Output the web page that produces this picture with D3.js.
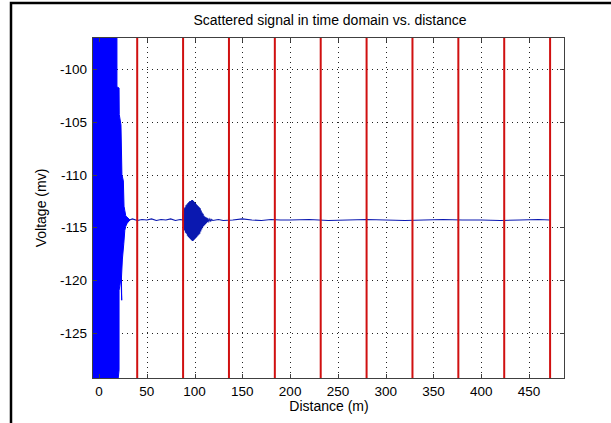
<!DOCTYPE html>
<html><head><meta charset="utf-8">
<script src="https://cdn.jsdelivr.net/npm/d3@7"></script>
<style>body{margin:0;background:#fff}svg{display:block}text{font-family:"Liberation Sans",Arial,sans-serif;fill:#000}</style>
</head><body><svg id="c" width="611" height="423"></svg>
<script>
// ---- data ----
const xTicks = [0, 50, 100, 150, 200, 250, 300, 350, 400, 450];
const yTicks = [-125, -120, -115, -110, -105, -100];
const markerDist = [40, 88, 136, 184, 232, 280, 328, 376, 424, 472];
// near-field saturated block: right edge (distance) vs voltage
const blockDist = [-7.3, 18.8, 18.8, 21.0, 21.2, 23.0, 24.0, 25.5, 26.2, 27.0, 28.0, 29.0, 32.4, 29.5, 28.0, 27.0, 26.0, 24.5, 23.5, 23.8, 23.0, 21.0, 21.0, 20.0, -7.3];
const blockVolt = [-96.9, -96.9, -101.7, -101.8, -104.3, -105.3, -110.0, -110.6, -113.0, -113.4, -113.9, -114.0, -114.3, -114.6, -114.9, -115.3, -116.5, -118.0, -119.8, -121.9, -119.8, -121.0, -128.5, -129.4, -129.4];
// trace after near field
const traceDist = [32, 35, 40, 45, 50, 55, 60, 65, 70, 75, 80, 85, 87.5,
  88.0, 88.5, 89.0, 89.5, 90.0, 90.5, 91.0, 91.5, 92.0, 92.5, 93.0, 93.5, 94.0, 94.5, 95.0, 95.5, 96.0, 96.5, 97.0, 97.5, 98.0, 98.5, 99.0, 99.5,
  100.0, 100.5, 101.0, 101.5, 102.0, 102.5, 103.0, 103.5, 104.0, 104.5, 105.0, 105.5, 106.0, 106.5, 107.0, 107.5, 108.0, 108.5, 109.0, 109.5,
  110.0, 110.5, 111.0, 111.5, 112.0, 112.5, 113.0, 113.5, 114.0, 115.0, 116.0, 117.0, 118.0, 119.0,
  125, 130, 140, 150, 160, 170, 180, 190, 200, 220, 240, 260, 280, 300, 320, 340, 360, 380, 400, 420, 440, 460, 472];
const traceVolt = [-114.3, -114.2, -114.35, -114.25, -114.3, -114.2, -114.35, -114.25, -114.3, -114.2, -114.35, -114.25, -114.3,
  -113.4, -115.1, -113.2, -115.3, -113.1, -115.5, -112.9, -115.6, -112.8, -115.8, -112.7, -115.9, -112.6, -116.0, -112.5, -116.1, -112.5, -116.2, -112.4, -116.3, -112.4, -116.3, -112.5, -116.2,
  -112.6, -116.1, -112.7, -116.0, -112.8, -115.9, -112.9, -115.8, -113.0, -115.7, -113.1, -115.6, -113.2, -115.4, -113.4, -115.2, -113.6, -115.0, -113.7, -114.9,
  -113.9, -114.8, -114.0, -114.7, -114.05, -114.6, -114.1, -114.5, -114.15, -114.45, -114.2, -114.4, -114.25, -114.35,
  -114.25, -114.35, -114.3, -114.2, -114.3, -114.35, -114.25, -114.3, -114.3, -114.25, -114.35, -114.3, -114.25, -114.3, -114.35, -114.3, -114.25, -114.3, -114.3, -114.35, -114.3, -114.25, -114.3];

// ---- drawing ----
const svg = d3.select("#c");
const L = 92, R = 565, T = 37, B = 379;
const x = d3.scaleLinear().domain([-7.3, 487.6]).range([L, R]);
const y = d3.scaleLinear().domain([-129.36, -96.97]).range([B, T]);

// outer figure border
svg.append("rect").attr("x", 11).attr("y", 3).attr("width", 620).attr("height", 440)
  .attr("fill", "none").attr("stroke", "#000").attr("stroke-width", 2.5);

svg.append("defs").append("clipPath").attr("id", "clip")
  .append("rect").attr("x", L).attr("y", T).attr("width", R - L).attr("height", B - T);

// grid
const grid = svg.append("g").attr("stroke", "#222").attr("stroke-width", 1).attr("stroke-dasharray", "1,4");
grid.selectAll(".gx").data(xTicks).join("line")
  .attr("x1", d => Math.round(x(d)) + 0.5).attr("x2", d => Math.round(x(d)) + 0.5).attr("y1", T).attr("y2", B);
grid.selectAll(".gy").data(yTicks).join("line")
  .attr("y1", d => Math.round(y(d)) + 0.5).attr("y2", d => Math.round(y(d)) + 0.5).attr("x1", L).attr("x2", R);

const g = svg.append("g").attr("clip-path", "url(#clip)");
// near-field block
const pts = blockDist.map((d, i) => [x(d), y(blockVolt[i])]);
g.append("path").attr("d", d3.line()(pts) + "Z").attr("fill", "#0000ff").attr("stroke", "#0000ff").attr("stroke-width", 1);
// trace
const tr = traceDist.map((d, i) => [x(d), y(traceVolt[i])]);
g.append("path").attr("d", d3.line()(tr)).attr("fill", "none").attr("stroke", "#0a18b0").attr("stroke-width", 1.1);

// red markers
g.selectAll(".mk").data(markerDist).join("line")
  .attr("x1", d => x(d)).attr("x2", d => x(d)).attr("y1", T).attr("y2", B)
  .attr("stroke", "#d01010").attr("stroke-width", 2);

// axes (inward ticks, MATLAB style)
const tk = 5;
const ax = svg.append("g").attr("stroke", "#404040").attr("stroke-width", 1);
ax.append("rect").attr("x", L + 0.5).attr("y", T + 0.5).attr("width", R - L - 1).attr("height", B - T - 1).attr("fill", "none");
xTicks.forEach(d => {
  const px = Math.round(x(d)) + 0.5;
  ax.append("line").attr("x1", px).attr("x2", px).attr("y1", B).attr("y2", B - tk);
  ax.append("line").attr("x1", px).attr("x2", px).attr("y1", T).attr("y2", T + tk);
});
yTicks.forEach(d => {
  const py = Math.round(y(d)) + 0.5;
  ax.append("line").attr("y1", py).attr("y2", py).attr("x1", L).attr("x2", L + tk);
  ax.append("line").attr("y1", py).attr("y2", py).attr("x1", R).attr("x2", R - tk);
});

// tick labels
svg.selectAll(".xl").data(xTicks).join("text")
  .attr("x", d => x(d)).attr("y", B + 17).attr("text-anchor", "middle").attr("font-size", 13.5).text(d => d);
svg.selectAll(".yl").data(yTicks).join("text")
  .attr("x", L - 5).attr("y", d => y(d) + 5).attr("text-anchor", "end").attr("font-size", 13.5).text(d => d);

// titles
svg.append("text").attr("x", 330).attr("y", 25).attr("text-anchor", "middle").attr("font-size", 14)
  .text("Scattered signal in time domain vs. distance");
svg.append("text").attr("x", 329).attr("y", 411).attr("text-anchor", "middle").attr("font-size", 14)
  .text("Distance (m)");
svg.append("text").attr("transform", `translate(46,${(T + B) / 2}) rotate(-90)`).attr("text-anchor", "middle").attr("font-size", 14)
  .text("Voltage (mv)");
</script></body></html>
